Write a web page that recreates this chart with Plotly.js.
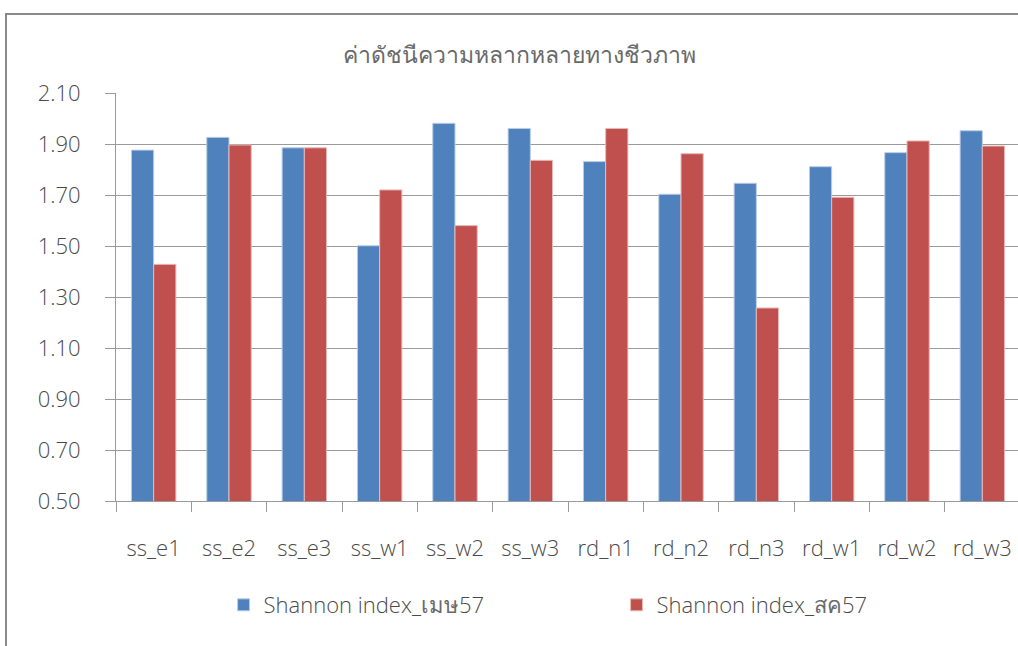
<!DOCTYPE html>
<html>
<head>
<meta charset="utf-8">
<script src="https://cdn.plot.ly/plotly-3.0.1.min.js"></script>
<style>
html,body{margin:0;padding:0;overflow:hidden;background:#fff;width:1018px;height:646px;}
#chart{position:absolute;left:0;top:0;}
#frame{position:absolute;left:5px;top:13px;width:1030px;height:700px;border-left:2px solid #8a8a8a;border-top:2px solid #8a8a8a;pointer-events:none;}
</style>
</head>
<body>
<div id="chart"></div>
<div id="frame"></div>
<script>
const categories = ["ss_e1","ss_e2","ss_e3","ss_w1","ss_w2","ss_w3","rd_n1","rd_n2","rd_n3","rd_w1","rd_w2","rd_w3"];
const seriesApr = [1.876,1.926,1.885,1.501,1.981,1.961,1.831,1.703,1.746,1.811,1.866,1.952];
const seriesAug = [1.428,1.896,1.885,1.720,1.580,1.836,1.961,1.862,1.257,1.691,1.912,1.892];
const seriesNames = ["Shannon index_เมษ57","Shannon index_สค57"];
const yTicks = [0.50,0.70,0.90,1.10,1.30,1.50,1.70,1.90,2.10];
const titleText = "ค่าดัชนีความหลากหลายทางชีวภาพ";

const font = "'Open Sans', 'Noto Sans', 'DejaVu Sans', sans-serif";
const txt = '#4a4a4a';
// soften Thai runs (fallback font has no light face)
const thaiWrap = s => s.replace(/([\u0E00-\u0E7F]+)/g, "<span style='font-weight:400;fill:#6a6a6a'>$1</span>");
const data = [
  {type:'bar', name:thaiWrap(seriesNames[0]), x:categories, y:seriesApr,
   marker:{color:'#4F81BD', line:{color:'#B9CDE5', width:1}}},
  {type:'bar', name:thaiWrap(seriesNames[1]), x:categories, y:seriesAug,
   marker:{color:'#C0504D', line:{color:'#E6B9B8', width:1}}}
];
const layout = {
  width:1022, height:646,
  margin:{l:116, r:2, t:93, b:145},
  paper_bgcolor:'#fff', plot_bgcolor:'#fff',
  font:{family:font, size:22, color:txt, weight:300},
  title:{text:titleText, font:{family:font, size:23, color:'#6a6a6a', weight:400}, x:0.508, xref:'container', xanchor:'center', y:0.915, yanchor:'middle'},
  barmode:'group', bargap:0.41, bargroupgap:0,
  xaxis:{type:'category', showline:true, linecolor:'#9a9a9a', linewidth:1,
    ticks:'outside', tickson:'boundaries', ticklen:10, tickcolor:'#9a9a9a',
    ticklabelstandoff:28, tickfont:{family:font, size:22, color:txt, weight:300},
    showgrid:false, fixedrange:true},
  yaxis:{range:[0.5,2.1], tickvals:yTicks, ticktext:yTicks.map(v=>v.toFixed(2)),
    showline:true, linecolor:'#9a9a9a', linewidth:1,
    ticks:'outside', ticklen:10, tickcolor:'#9a9a9a',
    showgrid:true, gridcolor:'#9a9a9a', gridwidth:1, zeroline:false,
    ticklabelstandoff:20, tickfont:{family:font, size:22, color:txt, weight:300}, fixedrange:true},
  legend:{orientation:'h', x:0.119, xanchor:'left', y:-0.255, yanchor:'middle',
    entrywidth:348, entrywidthmode:'pixels', font:{family:font, size:22, color:txt, weight:300}},
  showlegend:true
};
Plotly.newPlot('chart', data, layout, {displayModeBar:false, staticPlot:true});
</script>
</body>
</html>
